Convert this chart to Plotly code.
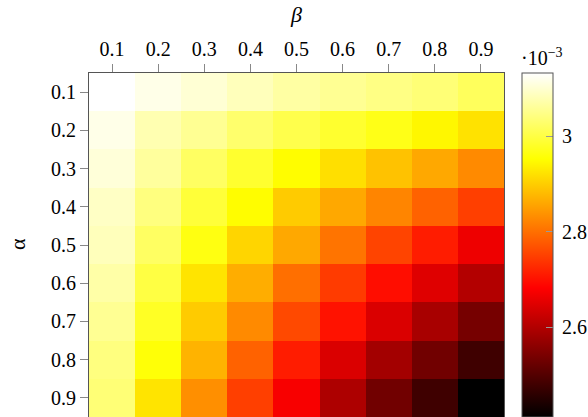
import plotly.graph_objects as go

betas = [0.1, 0.2, 0.3, 0.4, 0.5, 0.6, 0.7, 0.8, 0.9]
alphas = [0.1, 0.2, 0.3, 0.4, 0.5, 0.6, 0.7, 0.8, 0.9]
tick_text = ["0.1", "0.2", "0.3", "0.4", "0.5", "0.6", "0.7", "0.8", "0.9"]

# values in units of 1e-3; rows = alpha, columns = beta
row_a01 = [3.132, 3.116, 3.102, 3.084, 3.067, 3.056, 3.045, 3.035, 3.017]
row_a02 = [3.116, 3.077, 3.056, 3.028, 3.006, 2.985, 2.968, 2.944, 2.921]
row_a03 = [3.105, 3.063, 3.021, 2.985, 2.950, 2.918, 2.887, 2.860, 2.828]
row_a04 = [3.091, 3.042, 2.992, 2.950, 2.897, 2.860, 2.823, 2.786, 2.749]
row_a05 = [3.084, 3.021, 2.964, 2.908, 2.860, 2.805, 2.754, 2.712, 2.664]
row_a06 = [3.070, 2.999, 2.923, 2.865, 2.800, 2.744, 2.696, 2.648, 2.601]
row_a07 = [3.056, 2.978, 2.897, 2.828, 2.759, 2.701, 2.643, 2.590, 2.537]
row_a08 = [3.042, 2.957, 2.871, 2.786, 2.712, 2.643, 2.585, 2.532, 2.479]
row_a09 = [3.035, 2.923, 2.833, 2.749, 2.675, 2.595, 2.532, 2.479, 2.412]
z = [row_a01, row_a02, row_a03, row_a04, row_a05, row_a06, row_a07, row_a08, row_a09]

cbar_ticks = [2.6, 2.8, 3.0]
cbar_text = ["\u20092.6", "\u20092.8", "\u20093"]

hot = [[0.0, "rgb(0,0,0)"], [0.375, "rgb(255,0,0)"],
       [0.75, "rgb(255,255,0)"], [1.0, "rgb(255,255,255)"]]

FONT = "Liberation Serif"
W, H = 588, 417
L, T, B = 89, 73, 0
R = W - 504
pw = W - L - R
ph = H - T - B


def px_x(x):
    return (x - L) / pw


def px_y(y):
    return 1 - (y - T) / ph


fig = go.Figure(go.Heatmap(
    x=betas, y=alphas, z=z,
    zmin=min(min(r) for r in z), zmax=max(max(r) for r in z),
    colorscale=hot,
    xgap=0, ygap=0,
    colorbar=dict(
        x=px_x(522), xanchor="left",
        y=0.5, yanchor="middle", len=1.0, lenmode="fraction",
        thickness=31, thicknessmode="pixels",
        outlinewidth=1, outlinecolor="#555555",
        tickvals=cbar_ticks, ticktext=cbar_text,
        ticks="inside", ticklen=7, tickcolor="#999999",
        tickfont=dict(family=FONT, size=20, color="black"),
        xpad=0, ypad=0,
    ),
))

fig.update_layout(
    width=W, height=H,
    margin=dict(l=L, r=R, t=T, b=B, autoexpand=False),
    plot_bgcolor="white", paper_bgcolor="white",
    font=dict(family=FONT, size=20, color="black"),
    xaxis=dict(
        side="top", tickvals=betas, ticktext=tick_text,
        ticks="outside", ticklen=8, tickcolor="#888888",
        showline=True, linecolor="#555555", linewidth=1, mirror=True,
        showgrid=False, zeroline=False,
        range=[0.05, 0.95],
        tickfont=dict(family=FONT, size=20, color="black"),
    ),
    yaxis=dict(
        tickvals=alphas, ticktext=tick_text,
        ticks="outside", ticklen=8, tickcolor="#888888",
        showline=True, linecolor="#555555", linewidth=1, mirror=True,
        showgrid=False, zeroline=False,
        range=[0.95, 0.05],
        tickfont=dict(family=FONT, size=20, color="black"),
    ),
    annotations=[
        dict(text="<i>β</i>", xref="paper", yref="paper",
             x=px_x(296), y=px_y(15), xanchor="center", yanchor="middle",
             showarrow=False, font=dict(family=FONT, size=22)),
        dict(text="α", xref="paper", yref="paper", textangle=-90,
             x=px_x(17), y=px_y(244), xanchor="center", yanchor="middle",
             showarrow=False, font=dict(family=FONT, size=22)),
        dict(text="·10<sup>−3</sup>", xref="paper", yref="paper",
             x=px_x(542), y=px_y(57),
             xanchor="center", yanchor="middle",
             showarrow=False, font=dict(family=FONT, size=20)),
    ],
)

fig.write_html(
    "out.html",
    config={"displayModeBar": False},
    post_script="document.body.style.margin='0';document.body.style.overflow='hidden';",
)
